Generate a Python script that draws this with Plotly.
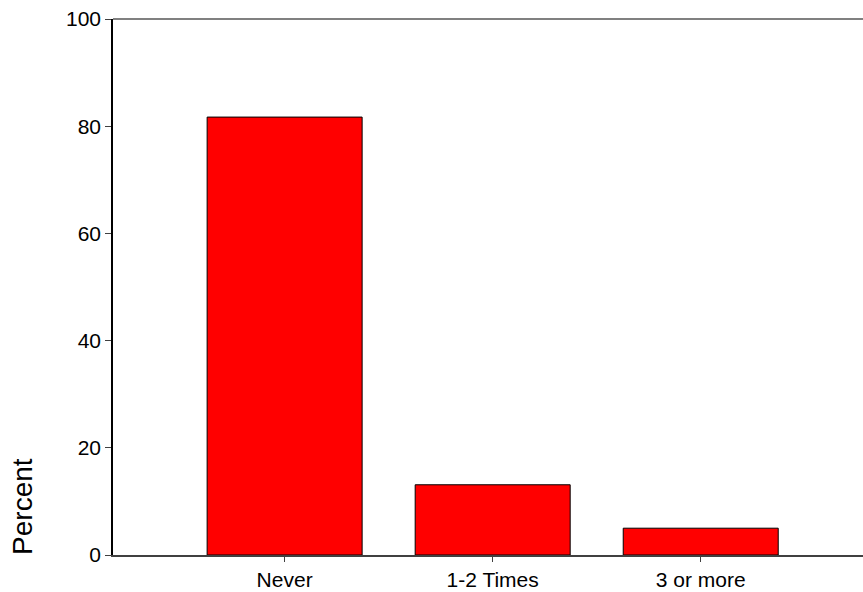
import plotly.graph_objects as go

categories = ["Never", "1-2 Times", "3 or more"]
percent = [81.7, 13.1, 5.0]
y_ticks = [0, 20, 40, 60, 80, 100]

fig = go.Figure()
fig.add_trace(go.Bar(
    x=categories, y=percent, width=0.745,
    marker=dict(color="#ff0000", line=dict(color="#000000", width=1)),
))

fig.update_layout(
    width=863, height=592,
    margin=dict(l=113, r=0, t=19, b=37, autoexpand=False),
    plot_bgcolor="white", paper_bgcolor="white",
    font=dict(family="Liberation Sans, Arial, sans-serif", size=21, color="#000000"),
    showlegend=False,
    xaxis=dict(
        range=[-0.825, 2.78], showgrid=False, zeroline=False, automargin=False,
        showline=True, linecolor="#404040", linewidth=2,
        ticks="outside", ticklen=5, tickcolor="#404040", tickwidth=1,
    ),
    yaxis=dict(
        range=[0, 100], tickvals=y_ticks, showgrid=False, zeroline=False, automargin=False,
        showline=True, linecolor="#000000", linewidth=1.5,
        ticks="outside", ticklen=6, tickcolor="#404040", tickwidth=1,
    ),
    shapes=[dict(type="line", xref="paper", yref="paper", x0=0, x1=1, y0=1, y1=1,
                 line=dict(color="#808080", width=2))],
    annotations=[dict(text="Percent", textangle=-90, xref="paper", yref="paper",
                      x=-0.121, y=-0.004, xanchor="center", yanchor="bottom",
                      showarrow=False, font=dict(size=28))],
)

fig.write_html("out.html", config={"displayModeBar": False},
               post_script="document.body.style.margin='0';document.body.style.overflow='hidden';")
